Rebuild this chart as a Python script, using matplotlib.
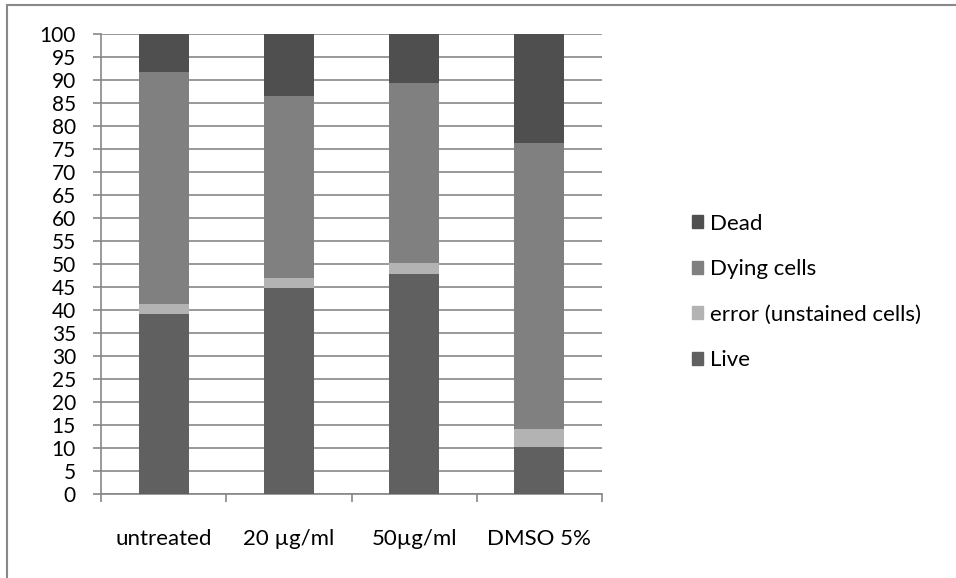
import numpy as np
import matplotlib
matplotlib.use("Agg")
import matplotlib.pyplot as plt
from matplotlib.patches import Rectangle, Patch

# данные
categories = ["untreated", "20 µg/ml", "50µg/ml", "DMSO 5%"]
live = [39.3, 44.9, 48.0, 10.3]
error = [2.0, 2.1, 2.3, 3.8]
dying = [50.4, 39.6, 39.1, 62.3]
dead = [8.3, 13.4, 10.6, 23.6]

series = ["Live", "error (unstained cells)", "Dying cells", "Dead"]
colors = ["#606060", "#b3b3b3", "#808080", "#4f4f4f"]
y_ticks = list(range(0, 101, 5))

plt.rcParams["font.family"] = ["Lato", "DejaVu Sans"]

fig = plt.figure(figsize=(9.56, 5.78), dpi=100)
# рамка графика (правая и нижняя сторона выходят за край)
fig.patches.append(Rectangle((7 / 956, -0.05), 1.0, 1.05 - 5 / 578,
                             transform=fig.transFigure, fill=False,
                             edgecolor="#888888", linewidth=1.5))
ax = fig.add_axes([101 / 956, 1 - 494.3 / 578, 501 / 956, 460 / 578])

x = np.arange(len(categories))
bottom = np.zeros(len(categories))
for vals, name, c in zip([live, error, dying, dead], series, colors):
    ax.bar(x, vals, 0.4, bottom=bottom, color=c, label=name, zorder=3)
    bottom += np.array(vals)

ax.set_xlim(-0.5, len(categories) - 0.5)
ax.set_ylim(0, 100)
ax.set_yticks(y_ticks)
ax.set_yticklabels([str(v) for v in y_ticks], fontsize=15)
ax.yaxis.grid(True, color="#878787", linewidth=1.2, zorder=0)
ax.set_xticks(x)
ax.set_xticklabels(categories, fontsize=16)
ax.set_xticks(np.arange(-0.5, len(categories)), minor=True)
ax.tick_params(axis="x", which="major", length=0, pad=25)
ax.tick_params(axis="x", which="minor", length=6, color="#878787", width=1.2)
ax.tick_params(axis="y", length=6, color="#878787", width=1.2, pad=12)

for s in ["top", "right"]:
    ax.spines[s].set_visible(False)
for s in ["left", "bottom"]:
    ax.spines[s].set_color("#878787")
    ax.spines[s].set_linewidth(1.2)

handles = [Patch(color=c) for c in colors][::-1]
ax.legend(handles, series[::-1], loc="center left", bbox_to_anchor=(1.18, 0.44),
          frameon=False, fontsize=16, handlelength=0.5, handleheight=0.5,
          handletextpad=0.3, labelspacing=1.15, borderpad=0, borderaxespad=0)

fig.savefig("out.png", dpi=100)
